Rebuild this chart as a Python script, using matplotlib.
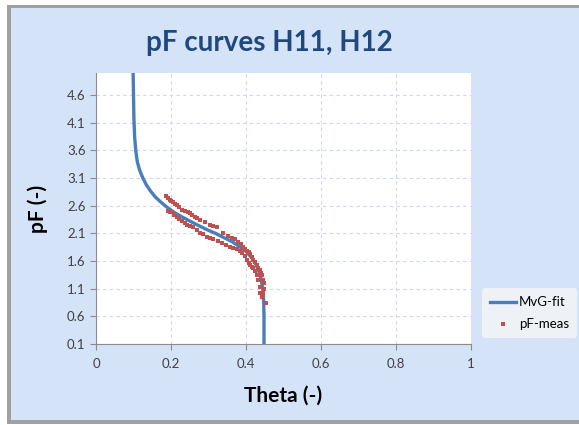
import matplotlib
matplotlib.use("Agg")
import matplotlib.pyplot as plt
from matplotlib.patches import Rectangle

plt.rcParams['font.family'] = ['Lato', 'DejaVu Sans']

# MvG fit curve (theta, pF)
fit_theta = [0.099, 0.100, 0.101, 0.103, 0.106, 0.110, 0.116, 0.125, 0.134,
             0.145, 0.158, 0.172, 0.188, 0.206, 0.226, 0.248, 0.271, 0.295,
             0.319, 0.342, 0.363, 0.383, 0.401, 0.416, 0.427, 0.435, 0.441,
             0.445, 0.447, 0.448, 0.448]
fit_pf = [5.0, 4.6, 4.2, 3.85, 3.6, 3.4, 3.25, 3.1, 2.98,
          2.87, 2.76, 2.67, 2.58, 2.49, 2.41, 2.33, 2.25, 2.17,
          2.1, 2.02, 1.95, 1.86, 1.77, 1.65, 1.53, 1.4, 1.25,
          1.08, 0.9, 0.6, 0.1]

# measured points, upper set
meas1_theta = [0.187, 0.192, 0.197, 0.201, 0.205, 0.210, 0.216, 0.222, 0.229,
               0.236, 0.244, 0.251, 0.257, 0.264, 0.270, 0.277, 0.290, 0.304,
               0.313, 0.323, 0.339, 0.352, 0.363, 0.371, 0.379, 0.386, 0.392,
               0.398, 0.403, 0.407, 0.411, 0.415, 0.419, 0.424, 0.429, 0.433,
               0.437, 0.440, 0.443, 0.445, 0.448]
meas1_pf = [2.77, 2.74, 2.71, 2.69, 2.66, 2.64, 2.62, 2.58, 2.53,
            2.51, 2.49, 2.47, 2.44, 2.40, 2.38, 2.35, 2.31, 2.26,
            2.24, 2.21, 2.11, 2.06, 2.02, 1.99, 1.95, 1.90, 1.86,
            1.82, 1.79, 1.76, 1.72, 1.67, 1.62, 1.58, 1.53, 1.48,
            1.44, 1.39, 1.35, 1.26, 1.21]
# measured points, lower set
meas2_theta = [0.192, 0.197, 0.203, 0.209, 0.216, 0.222, 0.229, 0.236, 0.243,
               0.251, 0.259, 0.268, 0.277, 0.286, 0.296, 0.304, 0.312, 0.324,
               0.336, 0.347, 0.357, 0.366, 0.376, 0.383, 0.389, 0.396, 0.403,
               0.407, 0.411, 0.415, 0.419, 0.424, 0.429, 0.432, 0.437,
               0.448, 0.445, 0.443, 0.453, 0.437]
meas2_pf = [2.50, 2.49, 2.48, 2.44, 2.39, 2.36, 2.32, 2.29, 2.26,
            2.24, 2.21, 2.16, 2.11, 2.08, 2.04, 2.01, 1.99, 1.96,
            1.93, 1.89, 1.86, 1.83, 1.81, 1.78, 1.75, 1.69, 1.62,
            1.57, 1.53, 1.50, 1.48, 1.42, 1.35, 1.26, 1.13,
            1.10, 1.03, 0.95, 0.84, 1.03]

yticks = [0.1, 0.6, 1.1, 1.6, 2.1, 2.6, 3.1, 3.6, 4.1, 4.6]
xticks = [0, 0.2, 0.4, 0.6, 0.8, 1]
xticklabels = ['0', '0.2', '0.4', '0.6', '0.8', '1']

meas_theta = meas1_theta + meas2_theta
meas_pf = meas1_pf + meas2_pf

fig = plt.figure(figsize=(5.79, 4.25), dpi=100, facecolor='white')
W, H = 579, 425
# panel with shadow
fig.patches.append(Rectangle((7 / W, 1 - 424 / H), 1, 419 / H, transform=fig.transFigure,
                             facecolor='#a0a0a0', edgecolor='none', zorder=-10))
fig.patches.append(Rectangle((11 / W, 1 - 420 / H), 1, 412 / H, transform=fig.transFigure,
                             facecolor='#d5e3f9', edgecolor='none', zorder=-9))

ax = fig.add_axes([96 / W, 1 - 344 / H, 375 / W, 271 / H])
ax.set_facecolor('white')

ax.plot(fit_theta, fit_pf, color='#4a7ebb', lw=2.4, label='MvG-fit', zorder=3)
ax.scatter(meas_theta, meas_pf, marker='s', s=11, color='#c0504d', linewidths=0,
           label='pF-meas', zorder=4)

ax.set_xlim(0, 1)
ax.set_ylim(0.1, 5.0)
ax.set_xticks(xticks)
ax.set_xticklabels(xticklabels)
ax.set_yticks(yticks)
ax.grid(True, color='#c9d9ee', linestyle=(0, (3, 3)), lw=0.8)
ax.set_axisbelow(True)
for s in ['top', 'right']:
    ax.spines[s].set_visible(False)
for s in ['left', 'bottom']:
    ax.spines[s].set_color('#8c8c8c')
ax.tick_params(colors='#8c8c8c', labelcolor='#404040', labelsize=9.5, length=4,
               direction='out')
ax.tick_params(axis='x', pad=6)

ax.set_xlabel('Theta (-)', fontsize=15, fontweight='bold', labelpad=11)
ax.set_ylabel('pF (-)', fontsize=15, fontweight='bold', labelpad=14)

fig.text(269 / W, 1 - 43 / H, 'pF curves H11, H12', ha='center', va='center',
         fontsize=20, fontweight='bold', color='#1f497d')

leg = ax.legend(loc='center right', bbox_to_anchor=(577 / W, 1 - 313 / H),
                bbox_transform=fig.transFigure, frameon=True, fontsize=9.5,
                handlelength=2.0, handletextpad=0.2, markerscale=0.8,
                borderaxespad=0, borderpad=0.6, labelspacing=0.7)
leg.get_frame().set_facecolor('#eef2f7')
leg.get_frame().set_edgecolor('none')
leg.get_frame().set_alpha(1)

fig.savefig('out.png', dpi=100, facecolor=fig.get_facecolor())
